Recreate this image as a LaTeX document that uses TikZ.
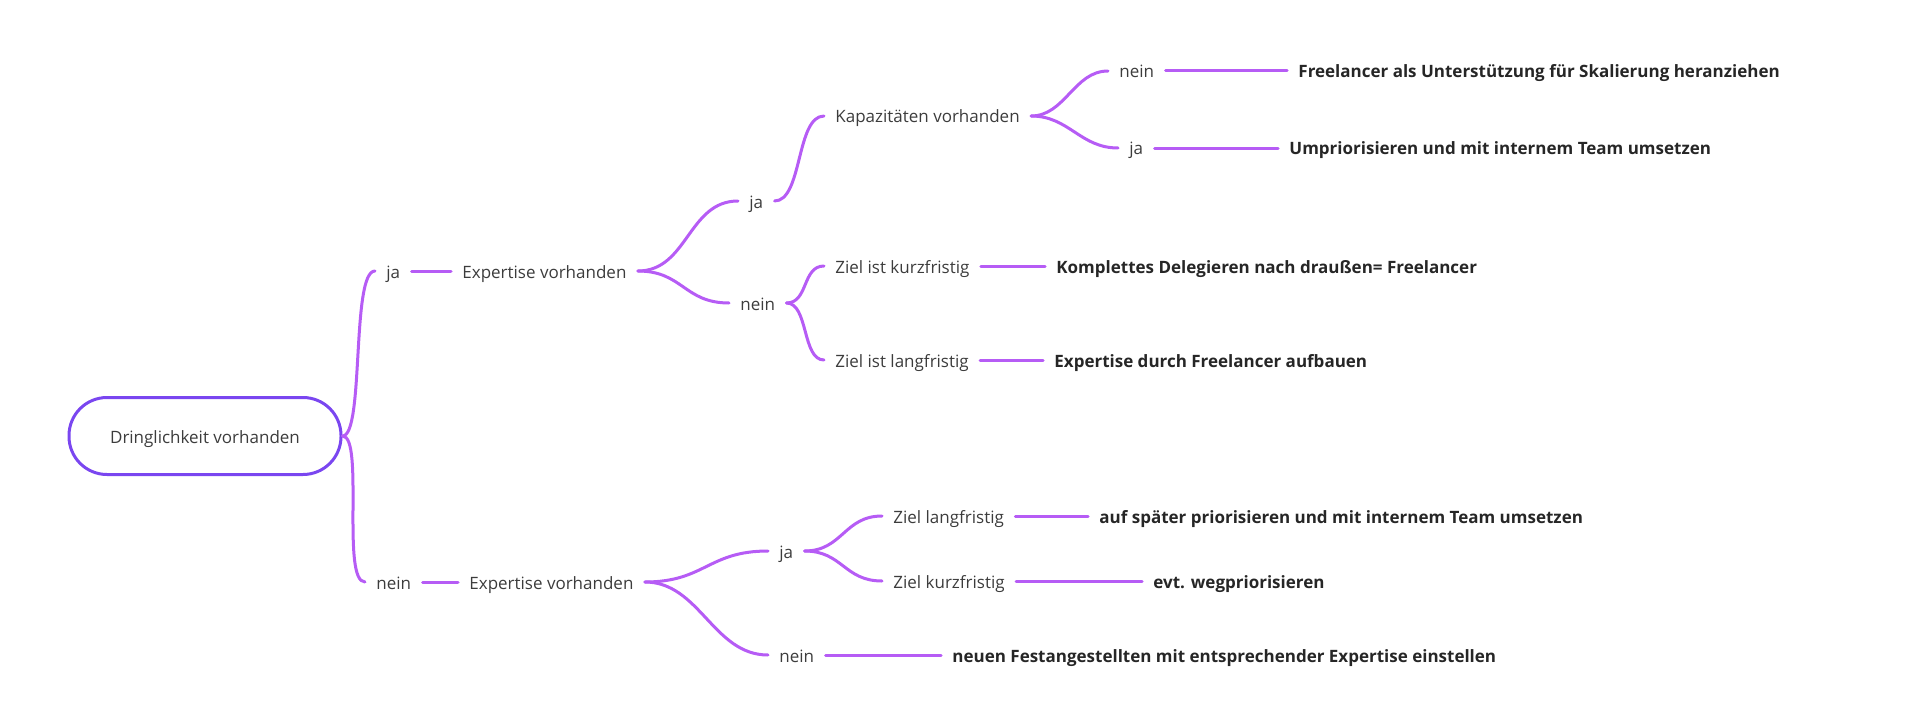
\documentclass[tikz,border=0pt]{standalone}
\usepackage{fontspec}
\setmainfont{Open Sans}
\usepackage{xcolor}
\usepackage{tikz}
\usetikzlibrary{positioning,calc}

\definecolor{branchcol}{HTML}{B65CF5}
\definecolor{rootcol}{HTML}{7A46F0}
\definecolor{txtcol}{HTML}{3C3C3C}
\definecolor{leafcol}{HTML}{262626}

\begin{document}
\begin{tikzpicture}[x=0.5pt, y=-0.5pt,
    every node/.style={font=\fontsize{8.5}{10}\selectfont, text=txtcol, inner xsep=5.5pt, inner ysep=0pt, text height=8.8pt, text depth=1.8pt},
    item/.style={anchor=west, yshift=1pt},
    leaf/.style={anchor=west, yshift=1pt, text=leafcol, font=\fontsize{8.5}{10}\selectfont\bfseries},
    branch/.style={draw=branchcol, line width=1.5pt, line cap=round}]
    \useasboundingbox (0,0) rectangle (1910,706);
    % root
    \node[draw=rootcol, line width=1.5pt, rounded corners=19pt, minimum width=136pt, minimum height=38.5pt] (root) at (205,436) {Dringlichkeit vorhanden};
    % Dringlichkeit: ja
    \node[item] (ja1) at (375,273) {ja};
    \node[item] (exp1) at (451,273) {Expertise vorhanden};
    \node[item] (ja2) at (738,203) {ja};
    \node[item] (kap) at (824,118) {Kapazitäten vorhanden};
    \node[item] (nein3) at (1108,73) {nein};
    \node[leaf] (free1) at (1287,73) {Freelancer als Unterstützung für Skalierung heranziehen};
    \node[item] (ja3) at (1118,150) {ja};
    \node[leaf] (ump) at (1278,150) {Umpriorisieren und mit internem Team umsetzen};
    \node[item] (nein2) at (729,305) {nein};
    \node[item] (kurz) at (824,268) {Ziel ist kurzfristig};
    \node[leaf] (kompl) at (1045,268) {Komplettes Delegieren nach draußen= Freelancer};
    \node[item] (lang) at (824,362) {Ziel ist langfristig};
    \node[leaf] (expfree) at (1043,362) {Expertise durch Freelancer aufbauen};
    % Dringlichkeit: nein
    \node[item] (nein1) at (365,584) {nein};
    \node[item] (exp2) at (458,584) {Expertise vorhanden};
    \node[item] (ja4) at (768,553) {ja};
    \node[item] (zlang) at (882,518) {Ziel langfristig};
    \node[leaf] (auf) at (1088,518) {auf später priorisieren und mit internem Team umsetzen};
    \node[item] (zkurz) at (882,583) {Ziel kurzfristig};
    \node[leaf] (evt) at (1142,583) {evt. wegpriorisieren};
    \node[item] (nein4) at (768,657) {nein};
    \node[leaf] (neu) at (941,657) {neuen Festangestellten mit entsprechender Expertise einstellen};
    % connectors
    \draw[branch] (root.east) .. controls +(22,0) and +(-24,0) .. (ja1.west);
    \draw[branch] (root.east) .. controls +(22,0) and +(-24,0) .. (nein1.west);
    \draw[branch] (ja1.east) -- (exp1.west);
    \draw[branch] (nein1.east) -- (exp2.west);
    \draw[branch] (exp1.east) .. controls +(50,0) and +(-50,0) .. (ja2.west);
    \draw[branch] (exp1.east) .. controls +(45,0) and +(-45,0) .. (nein2.west);
    \draw[branch] (ja2.east) .. controls +(28,0) and +(-28,0) .. (kap.west);
    \draw[branch] (kap.east) .. controls +(34,0) and +(-34,0) .. (nein3.west);
    \draw[branch] (kap.east) .. controls +(38,0) and +(-38,0) .. (ja3.west);
    \draw[branch] (nein3.east) -- (free1.west);
    \draw[branch] (ja3.east) -- (ump.west);
    \draw[branch] (nein2.east) .. controls +(22,0) and +(-22,0) .. (kurz.west);
    \draw[branch] (nein2.east) .. controls +(22,0) and +(-22,0) .. (lang.west);
    \draw[branch] (kurz.east) -- (kompl.west);
    \draw[branch] (lang.east) -- (expfree.west);
    \draw[branch] (exp2.east) .. controls +(60,0) and +(-60,0) .. (ja4.west);
    \draw[branch] (exp2.east) .. controls +(55,0) and +(-55,0) .. (nein4.west);
    \draw[branch] (ja4.east) .. controls +(38,0) and +(-38,0) .. (zlang.west);
    \draw[branch] (ja4.east) .. controls +(38,0) and +(-38,0) .. (zkurz.west);
    \draw[branch] (zlang.east) -- (auf.west);
    \draw[branch] (zkurz.east) -- (evt.west);
    \draw[branch] (nein4.east) -- (neu.west);
\end{tikzpicture}
\end{document}
